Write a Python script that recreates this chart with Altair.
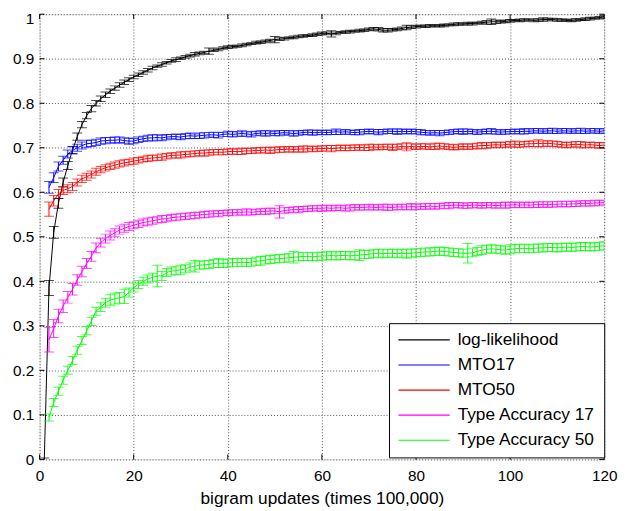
import altair as alt
import pandas as pd

names = ["log-likelihood", "MTO17", "MTO50", "Type Accuracy 17", "Type Accuracy 50"]
colors = ["#000000", "#0000ff", "#ff0000", "#ff00ff", "#00ff00"]

x_ticks = [0, 20, 40, 60, 80, 100, 120]
y_ticks = [0, 0.1, 0.2, 0.3, 0.4, 0.5, 0.6, 0.7, 0.8, 0.9, 1.0]

x_ll = list(range(1, 121))
x_other = list(range(2, 121))

ll = [0.000, 0.385, 0.510, 0.575, 0.622, 0.660, 0.695, 0.725, 0.752, 0.772,
      0.788, 0.800, 0.810, 0.819, 0.827, 0.834, 0.841, 0.847, 0.853, 0.859,
      0.864, 0.869, 0.874, 0.879, 0.883, 0.887, 0.891, 0.895, 0.898, 0.901,
      0.904, 0.907, 0.910, 0.912, 0.914, 0.917, 0.919, 0.921, 0.924, 0.926,
      0.927, 0.928, 0.930, 0.932, 0.934, 0.936, 0.937, 0.939, 0.941, 0.943,
      0.944, 0.945, 0.947, 0.948, 0.950, 0.951, 0.952, 0.953, 0.955, 0.957,
      0.957, 0.956, 0.957, 0.959, 0.960, 0.961, 0.962, 0.963, 0.964, 0.966,
      0.967, 0.966, 0.964, 0.964, 0.965, 0.966, 0.968, 0.970, 0.971, 0.972,
      0.973, 0.973, 0.974, 0.974, 0.974, 0.975, 0.976, 0.977, 0.978, 0.978,
      0.979, 0.979, 0.980, 0.981, 0.982, 0.983, 0.983, 0.983, 0.984, 0.985,
      0.986, 0.986, 0.987, 0.987, 0.986, 0.987, 0.988, 0.988, 0.988, 0.987,
      0.987, 0.986, 0.986, 0.987, 0.988, 0.989, 0.990, 0.991, 0.992, 0.994]
ll_err = [0.003, 0.017, 0.013, 0.011, 0.010, 0.009, 0.008, 0.008, 0.007, 0.007,
          0.007, 0.006, 0.006, 0.006, 0.005, 0.005, 0.005, 0.005, 0.004, 0.004,
          0.004, 0.004, 0.004, 0.004, 0.003, 0.004, 0.003, 0.003, 0.004, 0.003,
          0.003, 0.003, 0.004, 0.003, 0.003, 0.007, 0.003, 0.003, 0.003, 0.003,
          0.003, 0.002, 0.003, 0.003, 0.002, 0.003, 0.003, 0.003, 0.003, 0.007,
          0.003, 0.003, 0.002, 0.003, 0.003, 0.003, 0.002, 0.003, 0.003, 0.003,
          0.003, 0.007, 0.003, 0.002, 0.003, 0.003, 0.002, 0.003, 0.003, 0.003,
          0.003, 0.004, 0.004, 0.004, 0.003, 0.003, 0.003, 0.005, 0.003, 0.003,
          0.002, 0.003, 0.003, 0.002, 0.003, 0.003, 0.002, 0.003, 0.003, 0.002,
          0.003, 0.003, 0.002, 0.003, 0.004, 0.006, 0.004, 0.003, 0.003, 0.003,
          0.002, 0.003, 0.003, 0.002, 0.003, 0.003, 0.004, 0.003, 0.003, 0.003,
          0.003, 0.002, 0.003, 0.003, 0.002, 0.003, 0.003, 0.002, 0.003, 0.003]

mto17 = [0.611, 0.633, 0.658, 0.672, 0.686, 0.694, 0.700, 0.705, 0.709, 0.710,
         0.712, 0.715, 0.716, 0.717, 0.717, 0.718, 0.716, 0.715, 0.715, 0.718,
         0.720, 0.722, 0.722, 0.723, 0.722, 0.724, 0.725, 0.725, 0.724, 0.726,
         0.727, 0.726, 0.727, 0.728, 0.729, 0.729, 0.728, 0.730, 0.731, 0.730,
         0.731, 0.732, 0.731, 0.730, 0.732, 0.733, 0.732, 0.733, 0.732, 0.733,
         0.734, 0.733, 0.732, 0.733, 0.734, 0.735, 0.734, 0.734, 0.735, 0.734,
         0.735, 0.736, 0.735, 0.736, 0.735, 0.734, 0.735, 0.736, 0.737, 0.736,
         0.735, 0.736, 0.737, 0.737, 0.736, 0.737, 0.736, 0.737, 0.736, 0.735,
         0.734, 0.733, 0.734, 0.733, 0.734, 0.735, 0.736, 0.737, 0.736, 0.737,
         0.736, 0.735, 0.736, 0.737, 0.737, 0.736, 0.735, 0.736, 0.736, 0.737,
         0.736, 0.737, 0.737, 0.738, 0.738, 0.737, 0.738, 0.738, 0.737, 0.738,
         0.738, 0.737, 0.738, 0.738, 0.737, 0.738, 0.738, 0.737, 0.738]
mto17_err = [0.013, 0.011, 0.010, 0.009, 0.009, 0.008, 0.008, 0.008, 0.008, 0.007,
             0.007, 0.007, 0.007, 0.006, 0.007, 0.006, 0.006, 0.007, 0.006, 0.006,
             0.006, 0.006, 0.007, 0.006, 0.006, 0.006, 0.005, 0.006, 0.006, 0.006,
             0.006, 0.005, 0.006, 0.006, 0.005, 0.006, 0.006, 0.005, 0.006, 0.006,
             0.005, 0.006, 0.005, 0.006, 0.005, 0.005, 0.006, 0.005, 0.005, 0.006,
             0.005, 0.005, 0.006, 0.005, 0.005, 0.005, 0.006, 0.005, 0.005, 0.005,
             0.005, 0.006, 0.005, 0.005, 0.005, 0.005, 0.006, 0.005, 0.005, 0.005,
             0.006, 0.005, 0.005, 0.005, 0.006, 0.005, 0.005, 0.005, 0.005, 0.006,
             0.005, 0.005, 0.005, 0.006, 0.005, 0.005, 0.005, 0.005, 0.006, 0.005,
             0.005, 0.005, 0.005, 0.005, 0.006, 0.005, 0.005, 0.005, 0.005, 0.005,
             0.005, 0.006, 0.005, 0.005, 0.005, 0.005, 0.005, 0.006, 0.005, 0.005,
             0.005, 0.005, 0.005, 0.006, 0.005, 0.005, 0.005, 0.005, 0.005]

mto50 = [0.562, 0.581, 0.596, 0.604, 0.608, 0.613, 0.622, 0.630, 0.635, 0.640,
         0.646, 0.651, 0.655, 0.658, 0.661, 0.664, 0.666, 0.668, 0.670, 0.672,
         0.674, 0.676, 0.677, 0.678, 0.679, 0.681, 0.683, 0.683, 0.684, 0.685,
         0.686, 0.687, 0.688, 0.688, 0.689, 0.690, 0.690, 0.690, 0.691, 0.692,
         0.691, 0.692, 0.693, 0.693, 0.694, 0.694, 0.695, 0.694, 0.695, 0.696,
         0.696, 0.697, 0.696, 0.697, 0.697, 0.698, 0.697, 0.698, 0.698, 0.699,
         0.698, 0.699, 0.700, 0.699, 0.700, 0.700, 0.701, 0.700, 0.701, 0.702,
         0.701, 0.702, 0.702, 0.701, 0.702, 0.703, 0.702, 0.703, 0.702, 0.703,
         0.703, 0.702, 0.703, 0.704, 0.703, 0.702, 0.701, 0.702, 0.703, 0.702,
         0.703, 0.704, 0.705, 0.705, 0.706, 0.707, 0.706, 0.707, 0.708, 0.708,
         0.707, 0.708, 0.709, 0.709, 0.710, 0.709, 0.710, 0.709, 0.708, 0.707,
         0.706, 0.707, 0.708, 0.707, 0.706, 0.707, 0.706, 0.705, 0.706]
mto50_err = [0.016, 0.012, 0.010, 0.009, 0.009, 0.009, 0.008, 0.008, 0.008, 0.008,
             0.008, 0.007, 0.007, 0.007, 0.007, 0.007, 0.007, 0.006, 0.007, 0.006,
             0.006, 0.007, 0.006, 0.006, 0.007, 0.006, 0.006, 0.006, 0.007, 0.006,
             0.006, 0.006, 0.006, 0.007, 0.006, 0.006, 0.006, 0.006, 0.006, 0.006,
             0.006, 0.007, 0.006, 0.006, 0.006, 0.006, 0.006, 0.007, 0.006, 0.006,
             0.006, 0.006, 0.006, 0.006, 0.007, 0.006, 0.006, 0.006, 0.006, 0.006,
             0.007, 0.006, 0.006, 0.006, 0.006, 0.006, 0.006, 0.006, 0.007, 0.006,
             0.006, 0.006, 0.006, 0.007, 0.006, 0.006, 0.009, 0.006, 0.006, 0.006,
             0.006, 0.006, 0.007, 0.006, 0.006, 0.006, 0.006, 0.006, 0.006, 0.006,
             0.006, 0.006, 0.007, 0.006, 0.006, 0.006, 0.006, 0.006, 0.006, 0.007,
             0.006, 0.006, 0.006, 0.006, 0.008, 0.006, 0.006, 0.006, 0.006, 0.006,
             0.006, 0.006, 0.006, 0.007, 0.006, 0.006, 0.006, 0.006, 0.006]

ta17 = [0.269, 0.294, 0.322, 0.344, 0.364, 0.382, 0.403, 0.422, 0.440, 0.456,
        0.475, 0.487, 0.496, 0.503, 0.509, 0.515, 0.519, 0.523, 0.526, 0.529,
        0.532, 0.534, 0.536, 0.538, 0.540, 0.541, 0.543, 0.544, 0.545, 0.546,
        0.547, 0.548, 0.549, 0.550, 0.551, 0.552, 0.552, 0.553, 0.554, 0.554,
        0.555, 0.555, 0.556, 0.555, 0.556, 0.557, 0.557, 0.558, 0.558, 0.556,
        0.559, 0.560, 0.561, 0.561, 0.562, 0.563, 0.564, 0.564, 0.564, 0.565,
        0.564, 0.565, 0.565, 0.564, 0.565, 0.566, 0.566, 0.566, 0.567, 0.566,
        0.566, 0.567, 0.566, 0.566, 0.567, 0.567, 0.567, 0.568, 0.567, 0.568,
        0.568, 0.569, 0.568, 0.569, 0.570, 0.570, 0.571, 0.571, 0.570, 0.570,
        0.571, 0.571, 0.570, 0.571, 0.571, 0.570, 0.571, 0.571, 0.571, 0.572,
        0.571, 0.572, 0.571, 0.572, 0.572, 0.573, 0.572, 0.573, 0.573, 0.574,
        0.573, 0.574, 0.574, 0.575, 0.575, 0.575, 0.576, 0.576, 0.577]
ta17_err = [0.028, 0.020, 0.015, 0.014, 0.013, 0.013, 0.012, 0.012, 0.011, 0.011,
            0.011, 0.010, 0.010, 0.010, 0.009, 0.009, 0.009, 0.009, 0.008, 0.008,
            0.008, 0.008, 0.008, 0.007, 0.008, 0.007, 0.007, 0.007, 0.007, 0.007,
            0.007, 0.007, 0.006, 0.007, 0.007, 0.006, 0.007, 0.006, 0.006, 0.007,
            0.006, 0.006, 0.007, 0.006, 0.006, 0.006, 0.007, 0.006, 0.006, 0.014,
            0.006, 0.006, 0.006, 0.007, 0.006, 0.006, 0.006, 0.006, 0.007, 0.006,
            0.006, 0.006, 0.006, 0.006, 0.007, 0.006, 0.006, 0.006, 0.006, 0.006,
            0.006, 0.006, 0.007, 0.006, 0.006, 0.006, 0.006, 0.007, 0.006, 0.006,
            0.006, 0.006, 0.006, 0.006, 0.006, 0.007, 0.006, 0.006, 0.006, 0.006,
            0.006, 0.006, 0.006, 0.006, 0.006, 0.006, 0.006, 0.007, 0.006, 0.006,
            0.006, 0.006, 0.006, 0.006, 0.006, 0.006, 0.006, 0.006, 0.006, 0.006,
            0.006, 0.006, 0.006, 0.006, 0.006, 0.006, 0.006, 0.006, 0.005]

ta50 = [0.094, 0.128, 0.153, 0.178, 0.200, 0.222, 0.245, 0.267, 0.289, 0.310,
        0.333, 0.342, 0.352, 0.358, 0.361, 0.363, 0.366, 0.375, 0.386, 0.393,
        0.400, 0.405, 0.409, 0.412, 0.412, 0.420, 0.423, 0.424, 0.426, 0.428,
        0.432, 0.434, 0.436, 0.437, 0.438, 0.440, 0.441, 0.440, 0.441, 0.442,
        0.442, 0.443, 0.442, 0.443, 0.445, 0.446, 0.448, 0.449, 0.450, 0.451,
        0.452, 0.453, 0.454, 0.455, 0.456, 0.456, 0.455, 0.456, 0.457, 0.457,
        0.458, 0.457, 0.458, 0.458, 0.457, 0.458, 0.459, 0.460, 0.461, 0.462,
        0.463, 0.462, 0.463, 0.463, 0.462, 0.463, 0.462, 0.463, 0.464, 0.465,
        0.466, 0.466, 0.467, 0.468, 0.467, 0.466, 0.465, 0.464, 0.463, 0.463,
        0.464, 0.467, 0.470, 0.472, 0.473, 0.472, 0.471, 0.470, 0.472, 0.473,
        0.474, 0.474, 0.473, 0.474, 0.475, 0.475, 0.476, 0.476, 0.475, 0.476,
        0.477, 0.476, 0.477, 0.478, 0.478, 0.477, 0.478, 0.479, 0.480]
ta50_err = [0.008, 0.009, 0.009, 0.009, 0.009, 0.009, 0.009, 0.009, 0.009, 0.009,
            0.009, 0.010, 0.010, 0.012, 0.012, 0.012, 0.016, 0.010, 0.010, 0.009,
            0.009, 0.009, 0.009, 0.024, 0.010, 0.009, 0.009, 0.009, 0.010, 0.009,
            0.009, 0.013, 0.009, 0.009, 0.009, 0.009, 0.010, 0.009, 0.009, 0.009,
            0.009, 0.009, 0.009, 0.009, 0.009, 0.010, 0.009, 0.009, 0.009, 0.009,
            0.009, 0.009, 0.013, 0.009, 0.009, 0.009, 0.009, 0.009, 0.009, 0.009,
            0.009, 0.009, 0.009, 0.009, 0.009, 0.009, 0.012, 0.009, 0.009, 0.009,
            0.009, 0.009, 0.009, 0.009, 0.009, 0.009, 0.010, 0.009, 0.009, 0.009,
            0.009, 0.009, 0.009, 0.009, 0.009, 0.009, 0.009, 0.009, 0.009, 0.022,
            0.009, 0.009, 0.010, 0.009, 0.009, 0.009, 0.009, 0.009, 0.010, 0.009,
            0.009, 0.009, 0.009, 0.009, 0.009, 0.009, 0.009, 0.009, 0.009, 0.009,
            0.009, 0.009, 0.009, 0.009, 0.009, 0.009, 0.009, 0.009, 0.009]

series = [
    (names[0], x_ll, ll, ll_err),
    (names[1], x_other, mto17, mto17_err),
    (names[2], x_other, mto50, mto50_err),
    (names[3], x_other, ta17, ta17_err),
    (names[4], x_other, ta50, ta50_err),
]
rows = []
for order, (name, xs, vals, errs) in enumerate(series):
    for x, v, e in zip(xs, vals, errs):
        rows.append({"x": x, "series": name, "order": order, "v": v,
                     "lo": v - e, "hi": v + e})
df = pd.DataFrame(rows)

FONT = "Liberation Sans"
W, H = 572, 451

xscale = alt.Scale(domain=[0, 120], nice=False, zero=False)
yscale = alt.Scale(domain=[0, 1], nice=False, zero=False)

xaxis = alt.Axis(
    values=x_ticks, title="bigram updates (times 100,000)", ticks=False,
    domain=False, grid=True, gridDash=[1, 2], gridColor="#555555",
    labelFontSize=15.5, labelPadding=9, labelFlush=False, labelOverlap=False,
    titleFontSize=17.5, titleY=45, titleBaseline="alphabetic",
    titleFontWeight="normal")
yaxis = alt.Axis(
    values=y_ticks, format=".1~f", title=None, ticks=False, domain=False,
    grid=True, gridDash=[1, 2], gridColor="#555555", labelFontSize=15.5,
    labelPadding=6, labelFlush=False, labelOverlap=False,
    labelOffset={"condition": {"test": "datum.value >= 1", "value": 4}, "value": 0})

legend = alt.Legend(
    title=None, orient="none", legendX=354, legendY=313,
    symbolType="stroke", symbolSize=2704, symbolStrokeWidth=1.2,
    labelFontSize=17.5, labelFont=FONT, labelColor="black",
    strokeColor="black", fillColor="white", padding=8.5,
    rowPadding=7.4, clipHeight=17, labelOffset=7, cornerRadius=0,
)
cscale = alt.Scale(domain=names, range=colors)
color_leg = alt.Color("series:N", scale=cscale, sort=names, legend=legend)
color_none = alt.Color("series:N", scale=cscale, sort=names, legend=None)


def X(field):
    return alt.X(field, type="quantitative", scale=xscale, axis=xaxis)


def Y(field):
    return alt.Y(field, type="quantitative", scale=yscale, axis=yaxis)


base = alt.Chart(df)
lines = base.mark_line(strokeWidth=1, clip=True).encode(
    x=X("x"), y=Y("v"), color=color_leg, order="x:Q")
bars = base.mark_rule(strokeWidth=1, clip=True).encode(
    x=X("x"), y=Y("lo"), y2="hi:Q", color=color_none)
cap_lo = base.mark_tick(orient="horizontal", size=10, thickness=1, clip=True).encode(
    x=X("x"), y=Y("lo"), color=color_none)
cap_hi = base.mark_tick(orient="horizontal", size=10, thickness=1, clip=True).encode(
    x=X("x"), y=Y("hi"), color=color_none)

xt = pd.DataFrame({"x": x_ticks})
yt = pd.DataFrame({"v": y_ticks})
t_bottom = alt.Chart(xt).mark_rule(color="black", strokeWidth=1).encode(
    x=X("x"), y=alt.value(H), y2=alt.value(H - 5))
t_top = alt.Chart(xt).mark_rule(color="black", strokeWidth=1).encode(
    x=X("x"), y=alt.value(0), y2=alt.value(5))
t_left = alt.Chart(yt).mark_rule(color="black", strokeWidth=1).encode(
    y=Y("v"), x=alt.value(0), x2=alt.value(5))
t_right = alt.Chart(yt).mark_rule(color="black", strokeWidth=1).encode(
    y=Y("v"), x=alt.value(W), x2=alt.value(W - 5))

chart = alt.layer(
    lines, bars, cap_lo, cap_hi, t_bottom, t_top, t_left, t_right
).properties(
    width=W, height=H,
    padding={"left": 32, "top": 3, "right": 17, "bottom": 49},
    autosize=alt.AutoSizeParams(type="none"),
).configure_view(
    stroke="black", strokeWidth=1
).configure_axis(
    labelFont=FONT, titleFont=FONT, labelColor="black", titleColor="black",
    gridOpacity=1, gridWidth=1
).configure(background="white")

chart.save("out.html", embed_options={"renderer": "svg", "actions": False})
